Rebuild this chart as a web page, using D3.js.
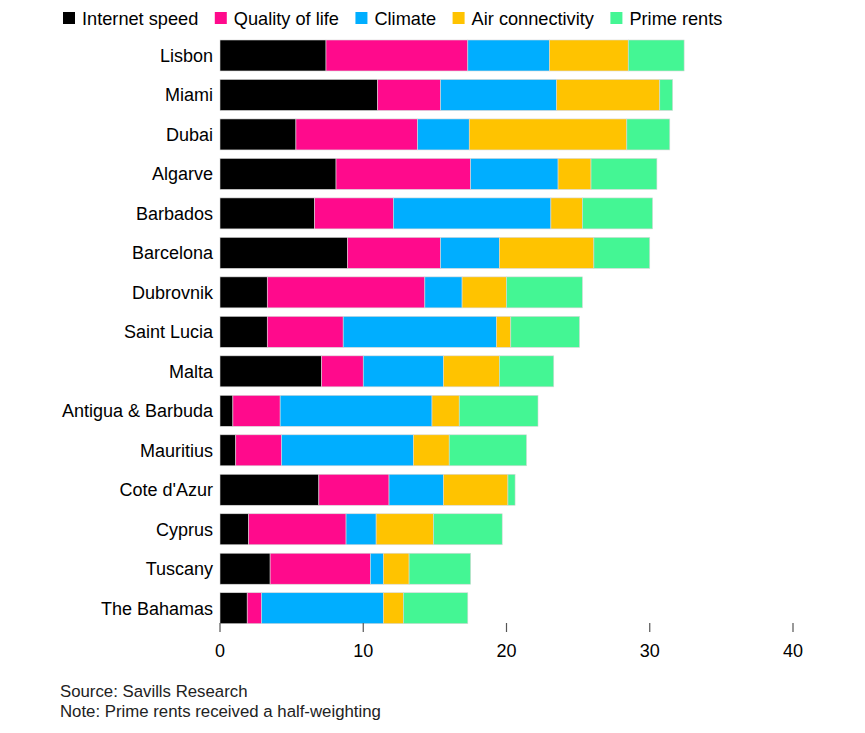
<!DOCTYPE html>
<html>
<head>
<meta charset="utf-8">
<script src="https://cdn.jsdelivr.net/npm/d3@7"></script>
<style>
  body { margin: 0; background: #fff; }
  text { font-family: "Liberation Sans", Arial, sans-serif; fill: #000; }
</style>
</head>
<body>
<svg id="chart" width="865" height="733"></svg>
<script>
// data
var cities = ["Lisbon", "Miami", "Dubai", "Algarve", "Barbados", "Barcelona", "Dubrovnik",
  "Saint Lucia", "Malta", "Antigua & Barbuda", "Mauritius", "Cote d'Azur", "Cyprus", "Tuscany", "The Bahamas"]
var series = ["Internet speed", "Quality of life", "Climate", "Air connectivity", "Prime rents"]
var internetSpeed   = [7.4, 11.0, 5.3, 8.1, 6.6, 8.9, 3.3, 3.3, 7.1, 0.9, 1.1, 6.9, 2.0, 3.5, 1.9]
var qualityOfLife   = [9.9, 4.4, 8.5, 9.4, 5.5, 6.5, 11.0, 5.3, 2.9, 3.3, 3.2, 4.9, 6.8, 7.0, 1.0]
var climate         = [5.7, 8.1, 3.6, 6.1, 11.0, 4.1, 2.6, 10.7, 5.6, 10.6, 9.2, 3.8, 2.1, 0.9, 8.5]
var airConnectivity = [5.5, 7.2, 11.0, 2.3, 2.2, 6.6, 3.1, 1.0, 3.9, 1.9, 2.5, 4.5, 4.0, 1.8, 1.4]
var primeRents      = [3.9, 0.9, 3.0, 4.6, 4.9, 3.9, 5.3, 4.8, 3.8, 5.5, 5.4, 0.5, 4.8, 4.3, 4.5]
var xTicks = [0, 10, 20, 30, 40]
var colors = ["#000000", "#ff0a8c", "#00aeff", "#ffc300", "#44f694"]

var svg = d3.select("#chart")

// build rows for the stack
var rows = cities.map(function(c, i) {
  return {
    city: c,
    "Internet speed": internetSpeed[i],
    "Quality of life": qualityOfLife[i],
    "Climate": climate[i],
    "Air connectivity": airConnectivity[i],
    "Prime rents": primeRents[i]
  }
})
var stacked = d3.stack().keys(series)(rows)

var x = d3.scaleLinear().domain([0, 40]).range([220, 793])
var y = d3.scaleBand().domain(cities).range([31.5, 632.2]).padding(0.215)
var color = d3.scaleOrdinal().domain(series).range(colors)

// bars
svg.append("g")
  .selectAll("g")
  .data(stacked)
  .join("g")
  .attr("fill", function(d) { return color(d.key) })
  .selectAll("rect")
  .data(function(d) { return d })
  .join("rect")
  .attr("x", function(d) { return x(d[0]) })
  .attr("y", function(d) { return y(d.data.city) })
  .attr("width", function(d) { return x(d[1]) - x(d[0]) })
  .attr("height", y.bandwidth())
  .attr("stroke", "#d8d8d8")
  .attr("stroke-width", 0.6)

// city labels
svg.append("g")
  .selectAll("text")
  .data(cities)
  .join("text")
  .attr("x", 213)
  .attr("y", function(d) { return y(d) + y.bandwidth() / 2 })
  .attr("dy", "0.36em")
  .attr("text-anchor", "end")
  .style("font-size", "18px")
  .text(function(d) { return d })

// x axis: ticks + labels, no domain line
var axis = svg.append("g")
axis.selectAll("line")
  .data(xTicks)
  .join("line")
  .attr("x1", function(d) { return x(d) })
  .attr("x2", function(d) { return x(d) })
  .attr("y1", 623)
  .attr("y2", 632)
  .attr("stroke", "#555")
  .attr("stroke-width", 1.2)
axis.selectAll("text")
  .data(xTicks)
  .join("text")
  .attr("x", function(d) { return x(d) })
  .attr("y", 657)
  .attr("text-anchor", "middle")
  .style("font-size", "18px")
  .text(function(d) { return d })

// legend
var legend = svg.append("g")
var lx = 63
series.forEach(function(s) {
  legend.append("rect")
    .attr("x", lx).attr("y", 12)
    .attr("width", 12).attr("height", 12)
    .attr("fill", color(s))
  var t = legend.append("text")
    .attr("x", lx + 19).attr("y", 24.5)
    .style("font-size", "18.2px")
    .text(s)
  lx = lx + 19 + t.node().getComputedTextLength() + 16.5
})

// footnotes
svg.append("text")
  .attr("x", 60).attr("y", 697)
  .style("font-size", "16.8px")
  .style("fill", "#222")
  .text("Source: Savills Research")
svg.append("text")
  .attr("x", 60).attr("y", 717)
  .style("font-size", "16.8px")
  .style("fill", "#222")
  .text("Note: Prime rents received a half-weighting")
</script>
</body>
</html>
